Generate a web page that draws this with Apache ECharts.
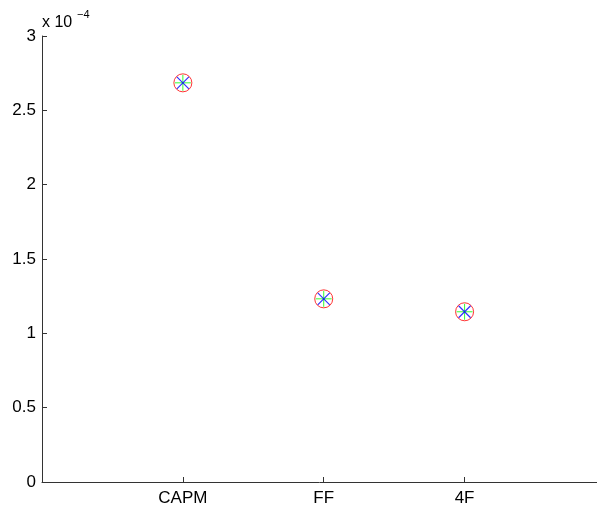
<!DOCTYPE html>
<html><head><meta charset="utf-8">
<script src="https://cdn.jsdelivr.net/npm/echarts@6/dist/echarts.min.js"></script>
<style>html,body{margin:0;padding:0;background:#fff}#c{width:597px;height:508px}</style>
</head><body><div id="c"></div>
<script>
var categories = ['CAPM', 'FF', '4F'];
var categoryPos = [1, 2, 3];
var values = [2.685e-4, 1.232e-4, 1.145e-4];
var yTicks = ['0', '0.5', '1', '1.5', '2', '2.5', '3'];

var chart = echarts.init(document.getElementById('c'));
var pts = categoryPos.map(function (p, i) { return [p, values[i]]; });
function mk(name, symbol, size, color, w) {
  return {
    type: 'scatter', name: name, data: pts, symbol: symbol, symbolSize: size,
    itemStyle: { color: 'rgba(0,0,0,0)', borderColor: color, borderWidth: w },
    emphasis: { disabled: true }, silent: true
  };
}
chart.setOption({
  animation: false,
  textStyle: { fontFamily: 'Liberation Sans' },
  grid: { left: 42, top: 36, bottom: 26, right: 0, containLabel: false },
  xAxis: {
    type: 'value', min: 0, max: 3.94, interval: 1,
    axisLine: { lineStyle: { color: '#333', width: 1 } },
    axisTick: { inside: true, length: 5, lineStyle: { color: '#333' } },
    splitLine: { show: false },
    axisLabel: { color: '#000', fontSize: 17, margin: 8, showMaxLabel: false,
      formatter: function (v) { var i = categoryPos.indexOf(v); return i >= 0 ? categories[i] : ''; } }
  },
  yAxis: {
    type: 'value', min: 0, max: 3e-4, interval: 0.5e-4,
    axisLine: { show: true, lineStyle: { color: '#333', width: 1 } },
    axisTick: { show: true, inside: true, length: 5, lineStyle: { color: '#333' } },
    splitLine: { show: false },
    axisLabel: { color: '#000', fontSize: 17, margin: 6,
      formatter: function (v) { return yTicks[Math.round(v / 0.5e-4)]; } }
  },
  graphic: [
    { type: 'text', silent: true, left: 42, top: 15,
      style: { text: 'x 10', fill: '#000', fontSize: 16, fontFamily: 'Liberation Sans' } },
    { type: 'text', silent: true, left: 77, top: 9,
      style: { text: '\u22124', fill: '#000', fontSize: 11, fontFamily: 'Liberation Sans' } }
  ],
  series: [
    mk('o', 'circle', 18, '#ff0000', 1),
    mk('+', 'path://M5,0L5,10M0,5L10,5', 16, '#00ff00', 1),
    mk('x', 'path://M0,0L10,10M10,0L0,10', 12, '#0000ff', 1.2)
  ]
});
</script></body></html>
